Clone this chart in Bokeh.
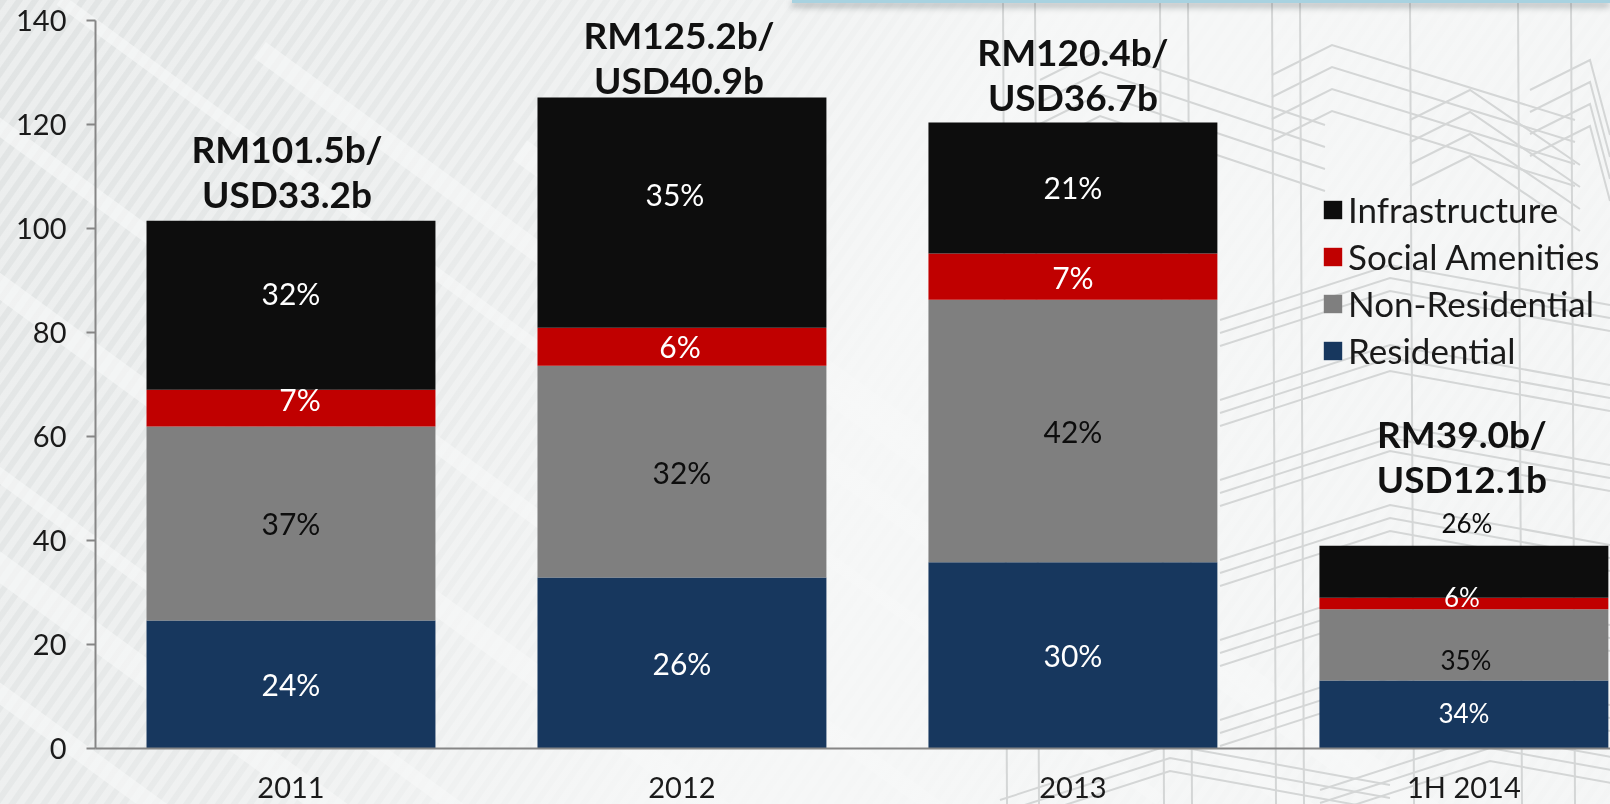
from urllib.parse import quote

from bokeh.core.properties import value
from bokeh.embed import file_html
from bokeh.models import (ColumnDataSource, FixedTicker, GlobalInlineStyleSheet, Legend,
                          LegendItem, Range1d)
from bokeh.plotting import figure
from bokeh.resources import INLINE

# ---------- data ----------
periods = ["2011", "2012", "2013", "1H 2014"]
residential = [24.6, 32.9, 35.8, 13.1]
non_residential = [37.3, 40.7, 50.5, 13.7]
social_amenities = [7.1, 7.3, 8.9, 2.2]
infrastructure = [32.5, 44.3, 25.2, 10.0]
residential_pct = ["24%", "26%", "30%", "34%"]
non_residential_pct = ["37%", "32%", "42%", "35%"]
social_pct = ["7%", "6%", "7%", "6%"]
infrastructure_pct = ["32%", "35%", "21%", "26%"]
totals = ["RM101.5b/\nUSD33.2b", "RM125.2b/\nUSD40.9b", "RM120.4b/\nUSD36.7b", "RM39.0b/\nUSD12.1b"]
y_ticks = [0, 20, 40, 60, 80, 100, 120, 140]

# ---------- styles / label placement (px) ----------
COLORS = {"res": "#17375E", "non": "#7F7F7F", "soc": "#C00000", "inf": "#0D0D0D"}
FONT = value("Lato")
AXIS = "#868686"


def background_svg():
    """Page texture: fine diagonal hatch, broad pale bands and a faint wireframe."""
    parts = [
        '<svg xmlns="http://www.w3.org/2000/svg" width="1610" height="804">',
        '<defs><pattern id="h" width="13" height="13" patternUnits="userSpaceOnUse" patternTransform="rotate(35)">',
        '<rect width="6" height="13" fill="#dfe2e2"/></pattern>',
        '<linearGradient id="f" x1="0" x2="1" y1="0" y2="0.25">',
        '<stop offset="0" stop-color="#f2f4f4" stop-opacity="0.1"/>',
        '<stop offset="0.35" stop-color="#f5f6f6" stop-opacity="0.45"/>',
        '<stop offset="0.62" stop-color="#f7f8f8" stop-opacity="0.93"/>',
        '<stop offset="1" stop-color="#f7f8f8" stop-opacity="0.85"/></linearGradient></defs>',
        '<rect width="1610" height="804" fill="#ebeded"/>',
        '<rect width="1610" height="804" fill="url(#h)"/>',
    ]
    for x0, y0, w in [(-120, 40, 16), (-160, 170, 22), (-200, 330, 14), (-120, 480, 26), (60, 0, 12),
                      (-60, 650, 18), (260, 50, 20), (520, 150, 24), (700, 300, 18)]:
        parts.append(f'<line x1="{x0}" y1="{y0}" x2="{x0 + 1100}" y2="{y0 + 800}" '
                     f'stroke="#f6f8f8" stroke-opacity="0.7" stroke-width="{w}"/>')
    parts.append('<rect width="1610" height="804" fill="url(#f)"/>')
    parts.append('<g stroke="#d4d6d6" stroke-width="2" fill="none">')
    for x in [1003, 1035, 1160, 1188, 1272, 1300, 1410, 1518, 1571]:
        parts.append(f'<line x1="{x}" y1="0" x2="{x + 4}" y2="804"/>')
    for x0, top, x1 in [(1040, 50, 1325), (1272, 45, 1575), (1410, 90, 1580), (1530, 60, 1610)]:
        for k in range(4):
            y = top + k * 22
            parts.append(f'<polyline points="{x0},{y + 30} {x0 + 60},{y} {x1},{y + 75}"/>')
    for x0, top in [(1220, 290), (1220, 370), (1220, 450), (1220, 530), (1220, 610), (1220, 690),
                    (1000, 770), (1320, 760)]:
        for k in range(3):
            y = top + k * 13
            parts.append(f'<polyline points="{x0},{y + 30} {x0 + 170},{y - 25} {x0 + 390},{y + 15}"/>')
    parts.append('</g></svg>')
    return "".join(parts)


css = f"""
html, body {{ overflow: hidden; margin: 0; padding: 0; }}
html {{ background: url("data:image/svg+xml,{quote(background_svg())}") 0 0 no-repeat; }}
body {{ background: transparent; }}
html::before {{ content: ""; position: fixed; left: 792px; right: 0; top: 0; height: 3px;
  background: #a8d2e0; box-shadow: 0 3px 7px rgba(60,70,75,.65); }}
"""

# x: one unit per category, bar centres at i + 0.5; the last bar ends at the page edge
x = [i + 0.5 for i in range(len(periods))]
p = figure(frame_width=1515, frame_height=728, x_range=Range1d(0, 3.875), y_range=Range1d(0, 140),
           toolbar_location=None, output_backend="svg",
           min_border_left=95, min_border_right=0, min_border_top=20, min_border_bottom=56,
           background_fill_alpha=0, border_fill_alpha=0, outline_line_color=None)
p.stylesheets = [GlobalInlineStyleSheet(css=css)]
p.grid.visible = False

# ---------- stacked bars ----------
src = ColumnDataSource(dict(x=x, res=residential, non=non_residential, soc=social_amenities, inf=infrastructure))
keys = ["res", "non", "soc", "inf"]
stack = p.vbar_stack(keys, x="x", width=0.739, color=[COLORS[k] for k in keys], line_color=None, source=src)

# ---------- percentage labels ----------
def add_labels(pct, base, vals, colors, dx, dy, sizes):
    p.text(x=x, y=[b + v / 2 for b, v in zip(base, vals)], text=pct, text_color=colors, text_font=FONT,
           text_font_size=sizes, text_align="center", text_baseline="middle",
           x_offset=dx, y_offset=dy)


b0 = [0] * 4
b1 = residential
b2 = [a + b for a, b in zip(b1, non_residential)]
b3 = [a + b for a, b in zip(b2, social_amenities)]
top = [a + b for a, b in zip(b3, infrastructure)]
W, K = "#FFFFFF", "#0D0D0D"
add_labels(residential_pct, b0, residential, [W] * 4, [0, 0, 0, 0], [-1, 0, 0, -1], ["30px", "30px", "30px", "26px"])
add_labels(non_residential_pct, b1, non_residential, [K] * 4, [0, 0, 0, 2], [-1, 0, 0, 15], ["30px", "30px", "30px", "26px"])
add_labels(social_pct, b2, social_amenities, [W] * 4, [9, -2, 0, -2], [-9, -1, 0, -6], ["30px", "30px", "30px", "26px"])
add_labels(infrastructure_pct, b3, infrastructure, [W, W, W, K], [0, -7, 0, 3], [-12, -19, -1, -49], ["30px", "30px", "30px", "26px"])

# ---------- totals ----------
p.text(x=x, y=top, text=totals, text_color="#111111", text_font=FONT, text_font_style="bold",
       text_font_size="37px", text_align="center", text_baseline="middle", text_line_height=1.0,
       x_offset=[-4, -3, 0, -2], y_offset=[-50, -40, -48, -90])

# ---------- axes ----------
ya = p.yaxis[0]
ya.ticker = FixedTicker(ticks=y_ticks)
ya.axis_line_color = AXIS
ya.axis_line_width = 2
ya.major_tick_line_color = AXIS
ya.major_tick_line_width = 2
ya.major_tick_in = 0
ya.major_tick_out = 9
ya.minor_tick_line_color = None
ya.major_label_standoff = 20
ya.major_label_text_font = "Lato"
ya.major_label_text_font_size = "29px"
ya.major_label_text_color = "#1a1a1a"

xa = p.xaxis[0]
xa.ticker = FixedTicker(ticks=x)
xa.major_label_overrides = dict(zip(x, periods))
xa.axis_line_color = AXIS
xa.axis_line_width = 2
xa.major_tick_line_color = None
xa.minor_tick_line_color = None
xa.major_tick_in = 0
xa.major_tick_out = 0
xa.major_label_standoff = 20
xa.major_label_text_font = "Lato"
xa.major_label_text_font_size = "29px"
xa.major_label_text_color = "#1a1a1a"

# ---------- legend ----------
names = ["Residential", "Non-Residential", "Social Amenities", "Infrastructure"]
legend = Legend(items=[LegendItem(label=n, renderers=[r]) for n, r in reversed(list(zip(names, stack)))],
                location=(1226, 377), orientation="vertical", glyph_width=23, glyph_height=23,
                label_standoff=4, spacing=5, padding=0, margin=0,
                background_fill_alpha=0, border_line_color=None,
                label_text_font="Lato", label_text_font_size="35px", label_text_color="#1a1a1a",
                label_height=41)
p.add_layout(legend)

open("out.html", "w").write(file_html(p, INLINE))
